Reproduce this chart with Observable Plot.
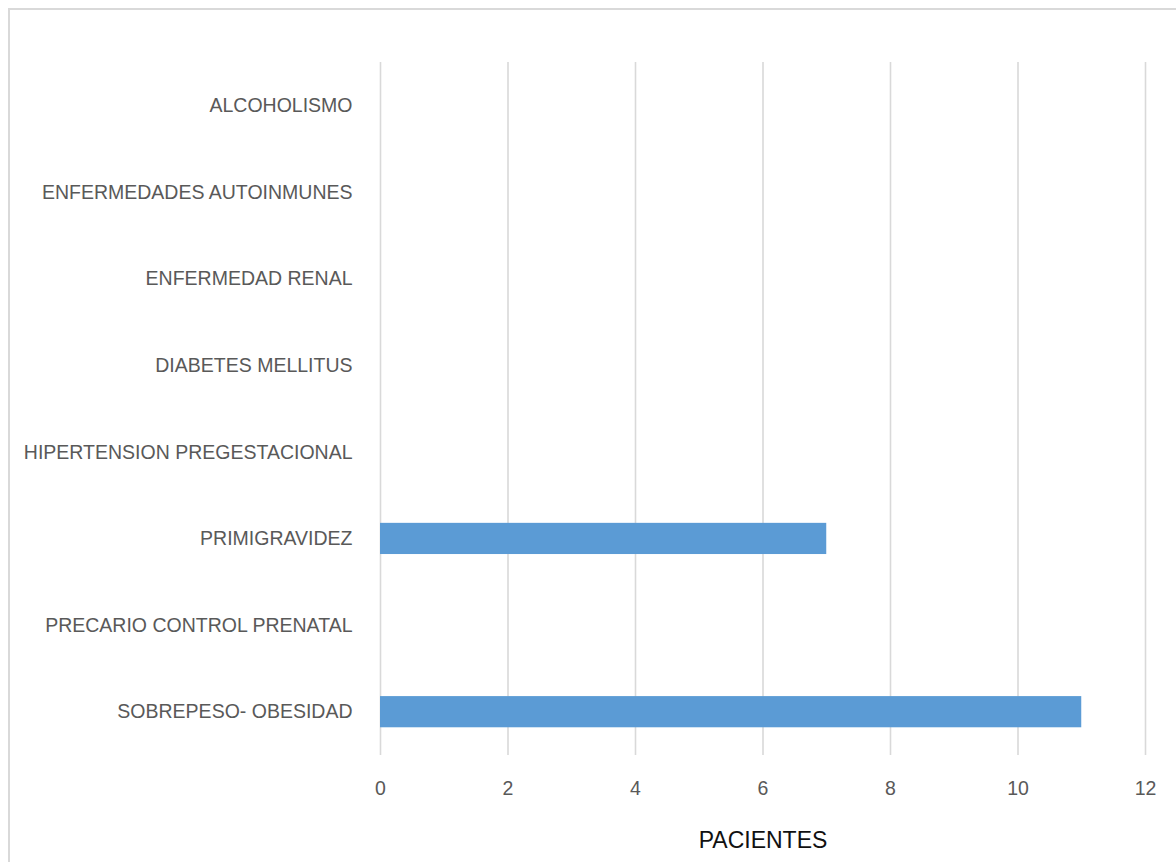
<!DOCTYPE html>
<html>
<head>
<meta charset="utf-8">
<script src="https://cdn.jsdelivr.net/npm/d3@7"></script>
<script src="https://cdn.jsdelivr.net/npm/@observablehq/plot@0.6"></script>
<style>
  html, body { margin: 0; padding: 0; background: #fff; overflow: hidden; }
  #wrap { position: relative; width: 1176px; height: 862px; }
  #border { position: absolute; left: 8px; top: 8px; width: 1200px; height: 900px;
            border: 2px solid #d9d9d9; box-sizing: border-box; pointer-events: none; }
  #chart { position: absolute; left: 0; top: 0; }
</style>
</head>
<body>
<div id="wrap">
  <div id="border"></div>
  <div id="chart"></div>
</div>
<script>
// Risk factors, listed top to bottom
const factores = [
  "ALCOHOLISMO",
  "ENFERMEDADES AUTOINMUNES",
  "ENFERMEDAD RENAL",
  "DIABETES MELLITUS",
  "HIPERTENSION PREGESTACIONAL",
  "PRIMIGRAVIDEZ",
  "PRECARIO CONTROL PRENATAL",
  "SOBREPESO- OBESIDAD"
];
// Number of patients per factor
const pacientes = [0, 0, 0, 0, 0, 7, 0, 11];
const xTicks = [0, 2, 4, 6, 8, 10, 12];
const xTitle = "PACIENTES";

const data = factores.map((f, i) => ({factor: f, pacientes: pacientes[i]}));

const font = "'Liberation Sans', Arial, sans-serif";

const chart = Plot.plot({
  width: 1176,
  height: 862,
  marginLeft: 380,
  marginRight: 31,
  marginTop: 62,
  marginBottom: 107,
  style: {fontFamily: font, fontSize: "19.5px", background: "transparent", color: "#595959"},
  x: {domain: [0, 12]},
  y: {domain: factores, paddingInner: 0.64, paddingOuter: 0.32, round: false},
  marks: [
    Plot.gridX(xTicks, {stroke: "#d9d9d9", strokeOpacity: 1, strokeWidth: 1.6}),
    Plot.barX(data, {x: "pacientes", y: "factor", fill: "#5b9bd5"}),
    Plot.axisY({tickSize: 0, tickPadding: 28, label: null, fill: "#595959", fontSize: 19.5}),
    Plot.axisX({ticks: xTicks, tickSize: 0, tickPadding: 26, label: null, fill: "#595959", fontSize: 19.5}),
    Plot.text([xTitle], {frameAnchor: "bottom", dy: 85, lineAnchor: "middle",
      text: d => d, fill: "#111", fontSize: 23})
  ]
});
document.getElementById("chart").appendChild(chart);
</script>
</body>
</html>
